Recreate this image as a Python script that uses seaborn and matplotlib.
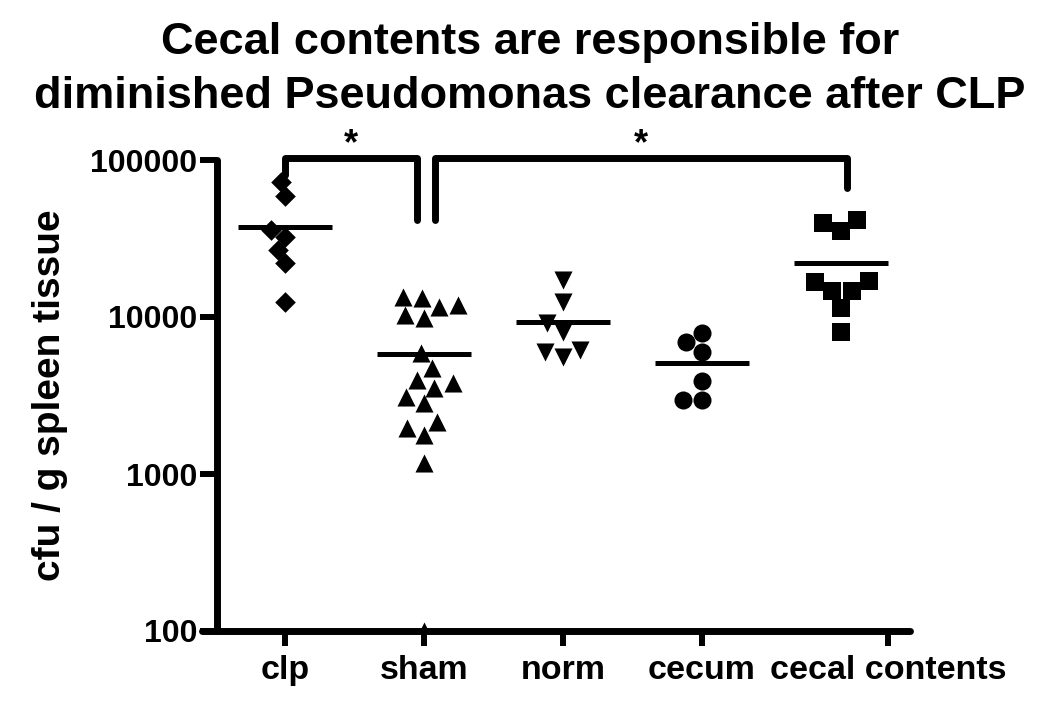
import numpy as np
import pandas as pd
import matplotlib
matplotlib.use("Agg")
import matplotlib.pyplot as plt
from matplotlib.ticker import FixedLocator, NullLocator, FuncFormatter
import seaborn as sns

# ---------------- data ----------------
categories = ["clp", "sham", "norm", "cecum", "cecal contents"]
clp = [72400, 59000, 35800, 32400, 26700, 22100, 12500]
sham = [13400, 13200, 11900, 11600, 10300, 9860, 5900, 4730, 3970, 3800,
        3530, 3090, 2830, 2140, 1960, 1770, 1175, 100]
norm = [17200, 12500, 9160, 8020, 6160, 5990, 5560]
cecum = [7910, 6930, 5990, 3910, 2960, 2960]
cecal_contents = [41500, 39700, 35300, 16900, 16700, 14600, 14600, 11400, 8020]
y_ticks = [100, 1000, 10000, 100000]
title = "Cecal contents are responsible for\ndiminished Pseudomonas clearance after CLP"
y_label = "cfu / g spleen tissue"
comparisons = [("clp", "sham"), ("sham", "cecal contents")]

groups = [clp, sham, norm, cecum, cecal_contents]
df = pd.DataFrame({
    "group": np.repeat(categories, [len(g) for g in groups]),
    "cfu": np.concatenate(groups).astype(float),
})
means = [float(np.mean(g)) for g in groups]

# ---------------- style ----------------
sns.set_theme(style="white")
plt.rcParams["font.family"] = ["Liberation Sans", "DejaVu Sans"]
plt.rcParams["font.weight"] = "bold"

markers = {"clp": "D", "sham": "^", "norm": "v", "cecum": "o", "cecal contents": "s"}
msizes = {"clp": 10.5, "sham": 13, "norm": 13, "cecum": 13, "cecal contents": 13.5}

W, H = 1050, 710
fig = plt.figure(figsize=(W / 100, H / 100), dpi=100)
ax_l, ax_r, ax_t, ax_b = 202, 910, 160, 631
ax = fig.add_axes([ax_l / W, 1 - ax_b / H, (ax_r - ax_l) / W, (ax_b - ax_t) / H])
ax.set_yscale("log")

for cat in categories:
    sub = df[df["group"] == cat]
    sns.swarmplot(data=sub, x="group", y="cfu", order=categories, ax=ax,
                  color="black", marker=markers[cat], size=msizes[cat],
                  linewidth=0, warn_thresh=1)

sns.pointplot(x=categories, y=means, order=categories, ax=ax, color="black",
              errorbar=None, linestyle="none", marker="_", markersize=68,
              markeredgewidth=3.6)

# ---------------- axes ----------------
px_per_cat = 139.0
x0_px = 285
ax.set_xlim((ax_l - x0_px) / px_per_cat, (ax_r - x0_px) / px_per_cat)
ax.set_ylim(100, 100000)

ax.yaxis.set_major_locator(FixedLocator(y_ticks))
ax.yaxis.set_minor_locator(NullLocator())
ax.yaxis.set_major_formatter(FuncFormatter(lambda v, p: f"{int(round(v))}"))

tick_pos = list(range(len(categories)))
tick_pos[-1] = tick_pos[-1] + 0.34  # label shifted right as in the original
ax.set_xticks(tick_pos)
ax.set_xticklabels(categories)

for s in ["top", "right"]:
    ax.spines[s].set_visible(False)
for s in ["left", "bottom"]:
    ax.spines[s].set_linewidth(5)
    ax.spines[s].set_color("black")
    ax.spines[s].set_capstyle("round")
ax.spines["left"].set_position(("axes", 15 / (ax_r - ax_l)))

ax.tick_params(axis="y", direction="out", length=12, width=4.3, color="black",
               labelsize=23, pad=2, left=True)
ax.tick_params(axis="x", direction="out", length=11, width=4.3, color="black",
               labelsize=24.5, pad=6, bottom=True)
for lab in ax.get_xticklabels() + ax.get_yticklabels():
    lab.set_fontweight("bold")
    lab.set_color("black")

ax.set_xlabel("")
ax.set_ylabel(y_label, fontsize=28, fontweight="bold", color="black")
ax.yaxis.set_label_coords((68 - ax_l) / (ax_r - ax_l), 0.5)
ax.grid(False)

# ---------------- significance brackets ----------------
top = 103000
bracket_layout = [
    # (left offset, right offset, left leg bottom, right leg bottom)
    (0.0, -0.05, 80000, 41500),
    (0.08, 0.04, 41500, 66300),
]
for (a, b), (dl, dr, yl, yr) in zip(comparisons, bracket_layout):
    xa = categories.index(a) + dl
    xb = categories.index(b) + dr
    ax.plot([xa, xa, xb, xb], [yl, top, top, yr], color="black", lw=5,
            solid_capstyle="round", solid_joinstyle="round", clip_on=False)
    ax.text((xa + xb) / 2, top * 1.05, "*", ha="center", va="baseline",
            fontsize=26, fontweight="bold", color="black", clip_on=False)

fig.text(530 / W, 1 - 22 / H, title, ha="center", va="top", fontsize=32.5,
         fontweight="bold", color="black", linespacing=1.4)

fig.savefig("out.png", dpi=100)
